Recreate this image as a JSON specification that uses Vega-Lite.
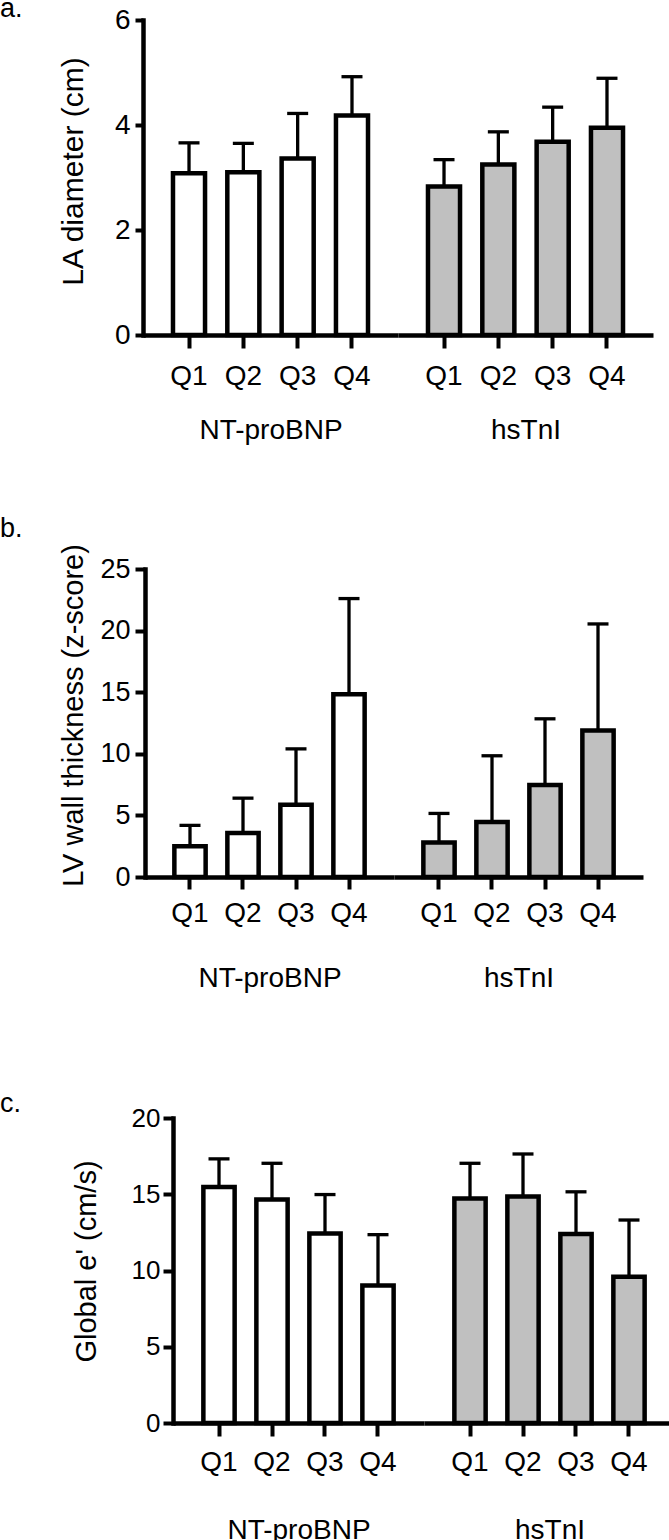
{
  "$schema": "https://vega.github.io/schema/vega-lite/v6.json",
  "autosize": {"type": "pad"},
  "padding": {"left": 0, "top": -5, "right": 0, "bottom": 0},
  "background": "white",
  "datasets": {
    "panelA": [
      {"marker": "NT-proBNP", "quartile": "Q1", "mean": 3.08, "upper": 3.66},
      {"marker": "NT-proBNP", "quartile": "Q2", "mean": 3.10, "upper": 3.65},
      {"marker": "NT-proBNP", "quartile": "Q3", "mean": 3.36, "upper": 4.22},
      {"marker": "NT-proBNP", "quartile": "Q4", "mean": 4.18, "upper": 4.92},
      {"marker": "hsTnI", "quartile": "Q1", "mean": 2.83, "upper": 3.34},
      {"marker": "hsTnI", "quartile": "Q2", "mean": 3.25, "upper": 3.87},
      {"marker": "hsTnI", "quartile": "Q3", "mean": 3.68, "upper": 4.34},
      {"marker": "hsTnI", "quartile": "Q4", "mean": 3.95, "upper": 4.89}
    ],
    "panelB": [
      {"marker": "NT-proBNP", "quartile": "Q1", "mean": 2.49, "upper": 4.19},
      {"marker": "NT-proBNP", "quartile": "Q2", "mean": 3.57, "upper": 6.4},
      {"marker": "NT-proBNP", "quartile": "Q3", "mean": 5.86, "upper": 10.4},
      {"marker": "NT-proBNP", "quartile": "Q4", "mean": 14.84, "upper": 22.6},
      {"marker": "hsTnI", "quartile": "Q1", "mean": 2.81, "upper": 5.16},
      {"marker": "hsTnI", "quartile": "Q2", "mean": 4.46, "upper": 9.84},
      {"marker": "hsTnI", "quartile": "Q3", "mean": 7.46, "upper": 12.84},
      {"marker": "hsTnI", "quartile": "Q4", "mean": 11.89, "upper": 20.54}
    ],
    "panelC": [
      {"marker": "NT-proBNP", "quartile": "Q1", "mean": 15.47, "upper": 17.32},
      {"marker": "NT-proBNP", "quartile": "Q2", "mean": 14.65, "upper": 17.03},
      {"marker": "NT-proBNP", "quartile": "Q3", "mean": 12.42, "upper": 14.98},
      {"marker": "NT-proBNP", "quartile": "Q4", "mean": 9.01, "upper": 12.35},
      {"marker": "hsTnI", "quartile": "Q1", "mean": 14.72, "upper": 17.03},
      {"marker": "hsTnI", "quartile": "Q2", "mean": 14.85, "upper": 17.64},
      {"marker": "hsTnI", "quartile": "Q3", "mean": 12.40, "upper": 15.16},
      {"marker": "hsTnI", "quartile": "Q4", "mean": 9.59, "upper": 13.31}
    ]
  },
  "bounds": "flush",
  "spacing": 549,
  "vconcat": [
    {
      "bounds": "flush",
      "spacing": 0,
      "hconcat": [
        {
          "width": 143, "height": 315,
          "title": {"text": "a.", "anchor": "start", "frame": "group", "orient": "top", "offset": 0, "dy": 24, "baseline": "alphabetic"},
          "data": {"values": [{}]},
          "mark": {"type": "text", "text": ""},
          "encoding": {}
        },
        {
          "data": {"name": "panelA"},
          "width": 255, "height": 315,
          "transform": [{"filter": "datum.marker === 'NT-proBNP'"}],
          "encoding": {
            "x": {"field": "quartile", "type": "nominal", "sort": null,
                  "scale": {"paddingInner": 0.41, "paddingOuter": 0.552},
                  "axis": {"title": "NT-proBNP", "labelAngle": 0, "labelFontSize": 28, "tickSize": 13, "labelPadding": 14, "titleFontSize": 28, "titleY": 103, "titleBaseline": "alphabetic"}},
            "y": {"field": "mean", "type": "quantitative", "scale": {"domain": [0, 6], "nice": false},
                  "axis": {"title": "LA diameter (cm)", "values": [0, 2, 4, 6], "tickSize": 8, "labelPadding": 5, "labelFontSize": 28, "titleFontSize": 30, "titleX": -61, "titleY": 151, "titleBaseline": "alphabetic", "labelFlush": false, "domainCap": "square"}}
          },
          "layer": [
            {"mark": {"type": "bar", "stroke": "black", "strokeWidth": 4.5},
             "encoding": {"fill": {"field": "marker", "type": "nominal", "scale": {"domain": ["NT-proBNP", "hsTnI"], "range": ["white", "#c0c0c0"]}, "legend": null}}},
            {"mark": {"type": "rule", "strokeWidth": 3.3, "color": "black"},
             "encoding": {"y2": {"field": "upper"}}},
            {"mark": {"type": "tick", "orient": "horizontal", "size": 21, "thickness": 3.3, "color": "black", "opacity": 1},
             "encoding": {"y": {"field": "upper", "type": "quantitative", "scale": {"domain": [0, 6], "nice": false},
                  "axis": {"title": "LA diameter (cm)", "values": [0, 2, 4, 6], "tickSize": 8, "labelPadding": 5, "labelFontSize": 28, "titleFontSize": 30, "titleX": -61, "titleY": 151, "titleBaseline": "alphabetic", "labelFlush": false, "domainCap": "square"}}}}
          ]
        },
        {
          "data": {"name": "panelA"},
          "width": 255, "height": 315,
          "transform": [{"filter": "datum.marker === 'hsTnI'"}],
          "encoding": {
            "x": {"field": "quartile", "type": "nominal", "sort": null,
                  "scale": {"paddingInner": 0.41, "paddingOuter": 0.552},
                  "axis": {"title": "hsTnI", "labelAngle": 0, "labelFontSize": 28, "tickSize": 13, "labelPadding": 14, "titleFontSize": 28, "titleY": 103, "titleBaseline": "alphabetic"}},
            "y": {"field": "mean", "type": "quantitative", "scale": {"domain": [0, 6], "nice": false}, "axis": null}
          },
          "layer": [
            {"mark": {"type": "bar", "stroke": "black", "strokeWidth": 4.5},
             "encoding": {"fill": {"field": "marker", "type": "nominal", "scale": {"domain": ["NT-proBNP", "hsTnI"], "range": ["white", "#c0c0c0"]}, "legend": null}}},
            {"mark": {"type": "rule", "strokeWidth": 3.3, "color": "black"},
             "encoding": {"y2": {"field": "upper"}}},
            {"mark": {"type": "tick", "orient": "horizontal", "size": 21, "thickness": 3.3, "color": "black", "opacity": 1},
             "encoding": {"y": {"field": "upper", "type": "quantitative", "scale": {"domain": [0, 6], "nice": false}, "axis": null}}}
          ]
        }
      ]
    },
    {
      "bounds": "flush",
      "spacing": 0,
      "hconcat": [
        {
          "width": 145, "height": 308,
          "title": {"text": "b.", "anchor": "start", "frame": "group", "orient": "top", "offset": 0, "dy": -5, "baseline": "alphabetic"},
          "data": {"values": [{}]},
          "mark": {"type": "text", "text": ""},
          "encoding": {}
        },
        {
          "data": {"name": "panelB"},
          "width": 249, "height": 308,
          "transform": [{"filter": "datum.marker === 'NT-proBNP'"}],
          "encoding": {
            "x": {"field": "quartile", "type": "nominal", "sort": null,
                  "scale": {"paddingInner": 0.41, "paddingOuter": 0.554},
                  "axis": {"title": "NT-proBNP", "labelAngle": 0, "labelFontSize": 28, "tickSize": 12, "labelPadding": 10, "titleFontSize": 28, "titleY": 109, "titleBaseline": "alphabetic"}},
            "y": {"field": "mean", "type": "quantitative", "scale": {"domain": [0, 25], "nice": false},
                  "axis": {"title": "LV wall thickness (z-score)", "values": [0, 5, 10, 15, 20, 25], "tickSize": 10, "labelPadding": 5, "labelFontSize": 27, "titleFontSize": 29, "titleX": -63, "titleY": 146, "titleBaseline": "alphabetic", "labelFlush": false, "domainCap": "square"}}
          },
          "layer": [
            {"mark": {"type": "bar", "stroke": "black", "strokeWidth": 4.5},
             "encoding": {"fill": {"field": "marker", "type": "nominal", "scale": {"domain": ["NT-proBNP", "hsTnI"], "range": ["white", "#c0c0c0"]}, "legend": null}}},
            {"mark": {"type": "rule", "strokeWidth": 3.3, "color": "black"},
             "encoding": {"y2": {"field": "upper"}}},
            {"mark": {"type": "tick", "orient": "horizontal", "size": 21, "thickness": 3.3, "color": "black", "opacity": 1},
             "encoding": {"y": {"field": "upper", "type": "quantitative", "scale": {"domain": [0, 25], "nice": false},
                  "axis": {"title": "LV wall thickness (z-score)", "values": [0, 5, 10, 15, 20, 25], "tickSize": 10, "labelPadding": 5, "labelFontSize": 27, "titleFontSize": 29, "titleX": -63, "titleY": 146, "titleBaseline": "alphabetic", "labelFlush": false, "domainCap": "square"}}}}
          ]
        },
        {
          "data": {"name": "panelB"},
          "width": 249, "height": 308,
          "transform": [{"filter": "datum.marker === 'hsTnI'"}],
          "encoding": {
            "x": {"field": "quartile", "type": "nominal", "sort": null,
                  "scale": {"paddingInner": 0.41, "paddingOuter": 0.554},
                  "axis": {"title": "hsTnI", "labelAngle": 0, "labelFontSize": 28, "tickSize": 12, "labelPadding": 10, "titleFontSize": 28, "titleY": 109, "titleBaseline": "alphabetic"}},
            "y": {"field": "mean", "type": "quantitative", "scale": {"domain": [0, 25], "nice": false}, "axis": null}
          },
          "layer": [
            {"mark": {"type": "bar", "stroke": "black", "strokeWidth": 4.5},
             "encoding": {"fill": {"field": "marker", "type": "nominal", "scale": {"domain": ["NT-proBNP", "hsTnI"], "range": ["white", "#c0c0c0"]}, "legend": null}}},
            {"mark": {"type": "rule", "strokeWidth": 3.3, "color": "black"},
             "encoding": {"y2": {"field": "upper"}}},
            {"mark": {"type": "tick", "orient": "horizontal", "size": 21, "thickness": 3.3, "color": "black", "opacity": 1},
             "encoding": {"y": {"field": "upper", "type": "quantitative", "scale": {"domain": [0, 25], "nice": false}, "axis": null}}}
          ]
        }
      ]
    },
    {
      "bounds": "flush",
      "spacing": 0,
      "hconcat": [
        {
          "width": 173, "height": 305,
          "title": {"text": "c.", "anchor": "start", "frame": "group", "orient": "top", "offset": 0, "dy": 21, "baseline": "alphabetic"},
          "data": {"values": [{}]},
          "mark": {"type": "text", "text": ""},
          "encoding": {}
        },
        {
          "data": {"name": "panelC"},
          "width": 251, "height": 305,
          "transform": [{"filter": "datum.marker === 'NT-proBNP'"}],
          "encoding": {
            "x": {"field": "quartile", "type": "nominal", "sort": null,
                  "scale": {"paddingInner": 0.41, "paddingOuter": 0.573},
                  "axis": {"title": "NT-proBNP", "labelAngle": 0, "labelFontSize": 28, "tickSize": 13, "labelPadding": 12, "titleFontSize": 28, "titleY": 115, "titleBaseline": "alphabetic"}},
            "y": {"field": "mean", "type": "quantitative", "scale": {"domain": [0, 20], "nice": false},
                  "axis": {"title": "Global e' (cm/s)", "values": [0, 5, 10, 15, 20], "tickSize": 10, "labelPadding": 3, "labelFontSize": 26, "titleFontSize": 29, "titleX": -78, "titleY": 143, "titleBaseline": "alphabetic", "labelFlush": false, "domainCap": "square"}}
          },
          "layer": [
            {"mark": {"type": "bar", "stroke": "black", "strokeWidth": 4.5},
             "encoding": {"fill": {"field": "marker", "type": "nominal", "scale": {"domain": ["NT-proBNP", "hsTnI"], "range": ["white", "#c0c0c0"]}, "legend": null}}},
            {"mark": {"type": "rule", "strokeWidth": 3.3, "color": "black"},
             "encoding": {"y2": {"field": "upper"}}},
            {"mark": {"type": "tick", "orient": "horizontal", "size": 21, "thickness": 3.3, "color": "black", "opacity": 1},
             "encoding": {"y": {"field": "upper", "type": "quantitative", "scale": {"domain": [0, 20], "nice": false},
                  "axis": {"title": "Global e' (cm/s)", "values": [0, 5, 10, 15, 20], "tickSize": 10, "labelPadding": 3, "labelFontSize": 26, "titleFontSize": 29, "titleX": -78, "titleY": 143, "titleBaseline": "alphabetic", "labelFlush": false, "domainCap": "square"}}}}
          ]
        },
        {
          "data": {"name": "panelC"},
          "width": 251, "height": 305,
          "transform": [{"filter": "datum.marker === 'hsTnI'"}],
          "encoding": {
            "x": {"field": "quartile", "type": "nominal", "sort": null,
                  "scale": {"paddingInner": 0.41, "paddingOuter": 0.573},
                  "axis": {"title": "hsTnI", "labelAngle": 0, "labelFontSize": 28, "tickSize": 13, "labelPadding": 12, "titleFontSize": 28, "titleY": 115, "titleBaseline": "alphabetic"}},
            "y": {"field": "mean", "type": "quantitative", "scale": {"domain": [0, 20], "nice": false}, "axis": null}
          },
          "layer": [
            {"mark": {"type": "bar", "stroke": "black", "strokeWidth": 4.5},
             "encoding": {"fill": {"field": "marker", "type": "nominal", "scale": {"domain": ["NT-proBNP", "hsTnI"], "range": ["white", "#c0c0c0"]}, "legend": null}}},
            {"mark": {"type": "rule", "strokeWidth": 3.3, "color": "black"},
             "encoding": {"y2": {"field": "upper"}}},
            {"mark": {"type": "tick", "orient": "horizontal", "size": 21, "thickness": 3.3, "color": "black", "opacity": 1},
             "encoding": {"y": {"field": "upper", "type": "quantitative", "scale": {"domain": [0, 20], "nice": false}, "axis": null}}}
          ]
        }
      ]
    }
  ],
  "config": {
    "view": {"stroke": null},
    "font": "Liberation Sans",
    "axis": {"domainColor": "black", "domainWidth": 4.5, "tickColor": "black", "tickWidth": 4, "labelColor": "black", "titleColor": "black", "grid": false, "titleFontWeight": "normal", "labelFont": "Liberation Sans", "titleFont": "Liberation Sans"},
    "title": {"fontWeight": "normal", "fontSize": 27, "color": "black", "font": "Liberation Sans"}
  }
}
